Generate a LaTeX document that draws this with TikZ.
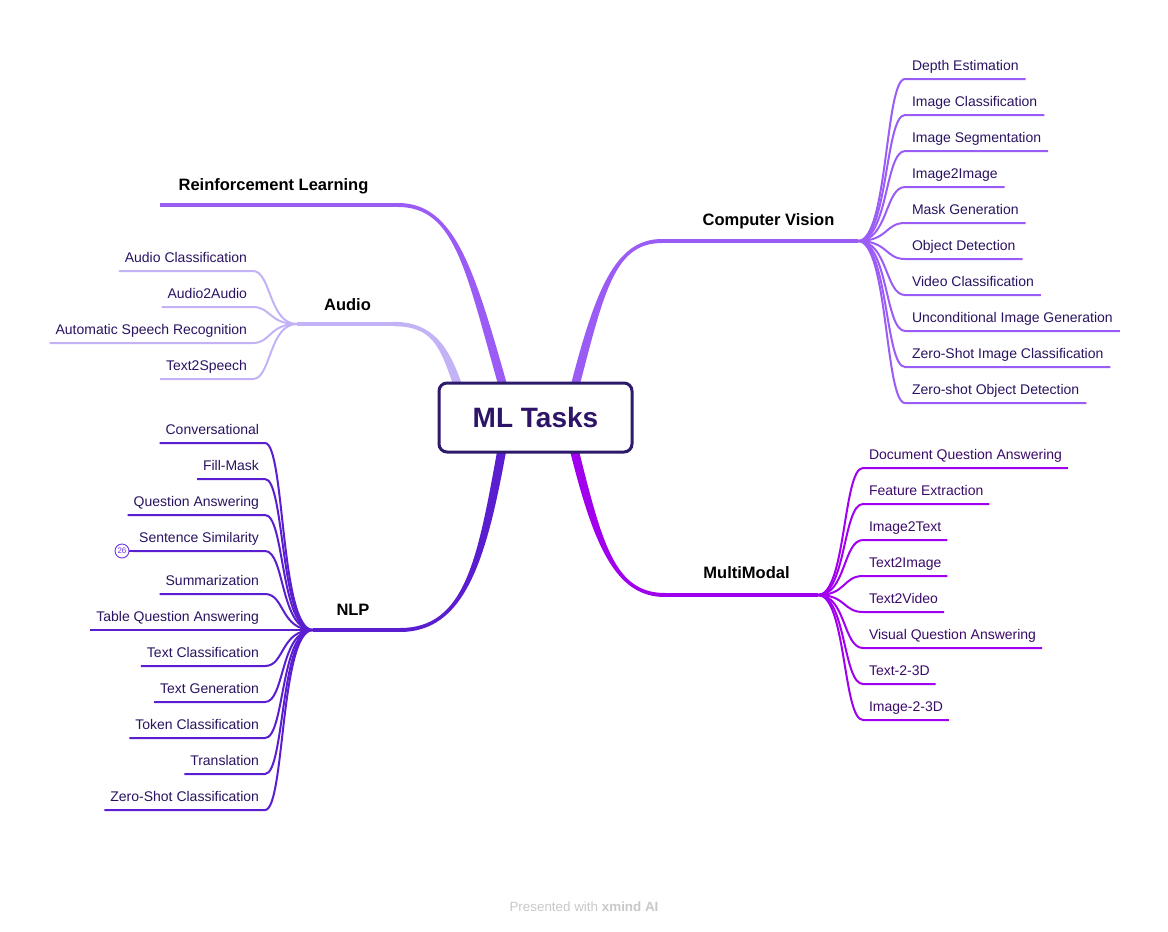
\documentclass[tikz,border=0pt]{standalone}
\usepackage{fontspec}
\setmainfont{Liberation Sans}
\usetikzlibrary{calc}
\pgfdeclarelayer{background}
\pgfsetlayers{background,main}

\definecolor{rootc}{HTML}{2E1A6B}
\definecolor{roottext}{HTML}{2D1466}
\definecolor{rlc}{HTML}{9B5CF6}
\definecolor{auc}{HTML}{C4B2F7}
\definecolor{cvc}{HTML}{9B5CF6}
\definecolor{mmc}{HTML}{A100EF}
\definecolor{nlc}{HTML}{5A1ED0}
\definecolor{leaftext}{HTML}{2A1260}
\definecolor{mmtext}{HTML}{3B0A68}
\definecolor{badgec}{HTML}{6D35E8}
\definecolor{footc}{HTML}{C8C8C8}

\begin{document}
\begin{tikzpicture}[x=1pt,y=-1pt,
  every node/.style={inner sep=0pt, outer sep=0pt},
  rootbox/.style={draw=rootc, line width=3pt, rounded corners=8pt, fill=white,
    minimum width=193pt, minimum height=69pt,
    font=\fontsize{28}{30}\selectfont\bfseries, text=roottext},
  topic/.style={anchor=base, font=\fontsize{16.5}{18}\selectfont\bfseries, text=black},
  leaf/.style={font=\fontsize{14}{16}\selectfont, inner xsep=6pt, inner ysep=0pt,
    text height=10pt, text depth=9pt, text=leaftext},
  twig/.style={line width=2pt},
  stem/.style={line width=3.5pt},
]
\useasboundingbox (0,0) rectangle (1168,932);

% central topic
\node[rootbox] (root) at (535.5,417.5) {ML Tasks};

% branch anchor points
\coordinate (rlS) at (503,386);  \coordinate (rlE) at (398,205); \coordinate (rlL) at (160,205);
\coordinate (auS) at (458,386);  \coordinate (auE) at (393,324); \coordinate (auJ) at (297,324);
\coordinate (cvS) at (575,386);  \coordinate (cvE) at (662,241); \coordinate (cvJ) at (858,241);
\coordinate (mmS) at (574,449);  \coordinate (mmE) at (665,595); \coordinate (mmJ) at (818,595);
\coordinate (nlS) at (502,449);  \coordinate (nlE) at (400,630); \coordinate (nlJ) at (313,630);

% topic labels
\node[topic] (rl) at (273.5,190) {Reinforcement Learning};
\node[topic] (au) at (347.5,310) {Audio};
\node[topic] (cv) at (768.5,225.5) {Computer Vision};
\node[topic] (mm) at (746.5,578) {MultiModal};
\node[topic] (nl) at (353,615.5) {NLP};

\begin{pgfonlayer}{background}
% tapered main branches
\fill[rlc] ($(rlS)+(-4.5,0)$) .. controls +(-33,-116) and +(57,0) .. ($(rlE)+(0,2)$)
  -- ($(rlE)+(0,-2)$) .. controls +(57,0) and +(-33,-116) .. ($(rlS)+(4.5,0)$) -- cycle;
\fill[auc] ($(auS)+(-4.5,0)$) .. controls +(-14,-41) and +(39,0) .. ($(auE)+(0,2.2)$)
  -- ($(auE)+(0,-2.2)$) .. controls +(39,0) and +(-14,-41) .. ($(auS)+(4.5,0)$) -- cycle;
\fill[cvc] ($(cvS)+(-4.5,0)$) .. controls +(25,-96) and +(-47,0) .. ($(cvE)+(0,-2)$)
  -- ($(cvE)+(0,2)$) .. controls +(-47,0) and +(25,-96) .. ($(cvS)+(4.5,0)$) -- cycle;
\fill[mmc] ($(mmS)+(-4.5,0)$) .. controls +(24,96) and +(-50,0) .. ($(mmE)+(0,2)$)
  -- ($(mmE)+(0,-2)$) .. controls +(-50,0) and +(24,96) .. ($(mmS)+(4.5,0)$) -- cycle;
\fill[nlc] ($(nlS)+(-4.5,0)$) .. controls +(-20,111) and +(65,0) .. ($(nlE)+(0,-2)$)
  -- ($(nlE)+(0,2)$) .. controls +(65,0) and +(-20,111) .. ($(nlS)+(4.5,0)$) -- cycle;

% thin ends of the main branches
\draw[stem, rlc] (rlE) -- (rlL);
\draw[stem, auc] (auE) -- (auJ);
\draw[stem, cvc] (cvE) -- (cvJ);
\draw[stem, mmc] (mmE) -- (mmJ);
\draw[stem, nlc] (nlE) -- (nlJ);
\end{pgfonlayer}

% Computer Vision subtopics
\foreach \n/\t/\y in {1/Depth Estimation/79,2/Image Classification/115,3/Image Segmentation/151,
  4/Image2Image/187,5/Mask Generation/223,6/Object Detection/259,7/Video Classification/295,
  8/Unconditional Image Generation/331,9/Zero-Shot Image Classification/367,
  10/Zero-shot Object Detection/403}{
  \node[leaf, inner xsep=7pt, anchor=south west] (cv\n) at (905,\y) {\t};
  \draw[twig, cvc] (cvJ) .. controls +(30,0) and +(-20,0) .. (cv\n.south west) -- (cv\n.south east);
}

% MultiModal subtopics
\foreach \n/\t/\y in {1/Document Question Answering/468,2/Feature Extraction/504,3/Image2Text/540,
  4/Text2Image/576,5/Text2Video/612,6/Visual Question Answering/648,7/Text-2-3D/684,8/Image-2-3D/720}{
  \node[leaf, text=mmtext, anchor=south west] (mm\n) at (863,\y) {\t};
  \draw[twig, mmc] (mmJ) .. controls +(28,0) and +(-20,0) .. (mm\n.south west) -- (mm\n.south east);
}

% NLP subtopics
\foreach \n/\t/\y in {1/Conversational/443,2/Fill-Mask/479,3/Question Answering/515,
  4/Sentence Similarity/551,5/Summarization/594,6/Table Question Answering/630,
  7/Text Classification/666,8/Text Generation/702,9/Token Classification/738,
  10/Translation/774,11/Zero-Shot Classification/810}{
  \node[leaf, anchor=south east] (nl\n) at (265,\y) {\t};
  \draw[twig, nlc] (nlJ) .. controls +(-33,0) and +(20,0) .. (nl\n.south east) -- (nl\n.south west);
}

% count badge on Sentence Similarity
\node[circle, draw=badgec, line width=0.9pt, minimum size=14pt,
  font=\fontsize{8}{8}\selectfont, text=badgec] (badge) at (122,551) {26};
\draw[twig, nlc] (badge.east) -- (nl4.south west);

% Audio subtopics
\foreach \n/\t/\y in {1/Audio Classification/271,2/Audio2Audio/307,
  3/Automatic Speech Recognition/343,4/Text2Speech/379}{
  \node[leaf, anchor=south east] (au\n) at (253,\y) {\t};
  \draw[twig, auc] (auJ) .. controls +(-28,0) and +(18,0) .. (au\n.south east) -- (au\n.south west);
}

% footer
\node[anchor=base, font=\fontsize{13.4}{15}\selectfont, text=footc] (foot) at (584,911.5)
  {Presented with \textbf{xmind AI}};
\end{tikzpicture}
\end{document}
